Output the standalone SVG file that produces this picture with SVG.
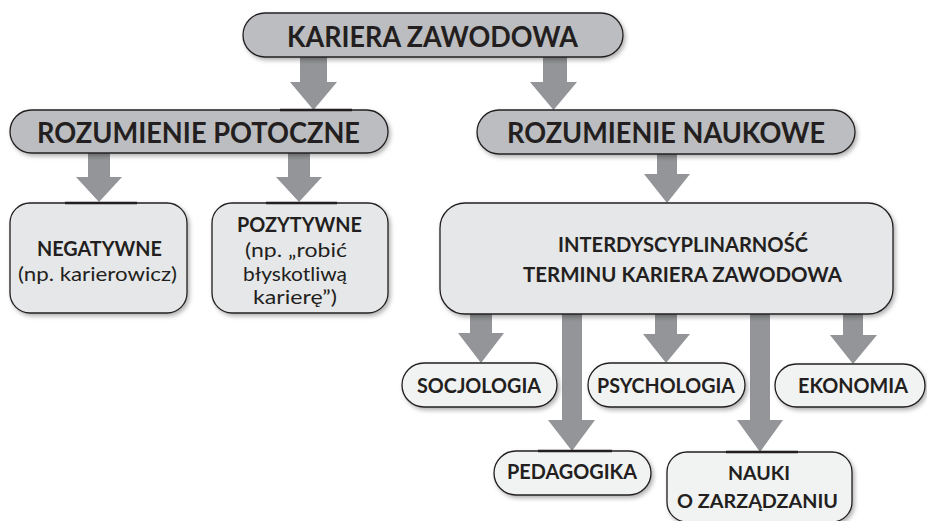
<svg xmlns="http://www.w3.org/2000/svg" width="927" height="521" viewBox="0 0 927 521">
  <defs>
    <filter id="shadow" x="-10%" y="-20%" width="125%" height="150%">
      <feDropShadow dx="2" dy="2.5" stdDeviation="2" flood-color="#000" flood-opacity="0.3"/>
    </filter>
    <style>
      .box { stroke: #231f20; stroke-width: 1.3; filter: url(#shadow); }
      .dark { fill: #bcbdc0; }
      .mid { fill: #e6e7e8; }
      .light { fill: #f1f2f2; }
      .edge { stroke: #231f20; stroke-width: 2.6; }
      .arrow { fill: #939598; }
      text { font-family: "Lato", "Liberation Sans", sans-serif; fill: #231f20; text-anchor: middle; }
      .t1 { font-size: 28px; font-weight: 700; }
      .t2 { font-size: 20px; font-weight: 700; }
      .t3 { font-size: 19px; font-weight: 400; }
      .t4 { font-size: 20px; font-weight: 700; }
      .t5 { font-size: 19px; font-weight: 700; }
    </style>
  </defs>
  <rect width="927" height="521" fill="#ffffff"/>

  <!-- connectors: block arrows -->
  <g id="connectors">
    <polygon class="arrow" points="300,55 327,55 327,82 337,82 313.5,110 290,82 300,82"/>
    <polygon class="arrow" points="543,55 567,55 567,82 577,82 553.5,110 530,82 543,82"/>
    <polygon class="arrow" points="88,151 110,151 110,177 122,177 99,202 76,177 88,177"/>
    <polygon class="arrow" points="288,151 310,151 310,177 322,177 299,202 276,177 288,177"/>
    <polygon class="arrow" points="657,152 677,152 677,174 690,174 667,203 644,174 657,174"/>
    <polygon class="arrow" points="470,312 492,312 492,333 504,333 481,363 458,333 470,333"/>
    <polygon class="arrow" points="655,312 677,312 677,334 690,334 666,363 643,334 655,334"/>
    <polygon class="arrow" points="843,312 863,312 863,335 877,335 853,364 830,335 843,335"/>
    <polygon class="arrow" points="562,312 582,312 582,420 595,420 572,451 548,420 562,420"/>
    <polygon class="arrow" points="750,312 770,312 770,420 783,420 760,452 737,420 750,420"/>
  </g>

  <g id="kariera">
    <rect class="box dark" x="243" y="13" width="380" height="44" rx="22"/>
    <text class="t1" x="432.5" y="47" textLength="291" lengthAdjust="spacingAndGlyphs">KARIERA ZAWODOWA</text>
  </g>

  <g id="potoczne">
    <rect class="box dark" x="10" y="110" width="378" height="43" rx="21.5"/>
    <line class="edge" x1="280" y1="110" x2="352" y2="110"/>
    <text class="t1" x="198.5" y="143" textLength="323" lengthAdjust="spacingAndGlyphs">ROZUMIENIE POTOCZNE</text>
  </g>

  <g id="naukowe">
    <rect class="box dark" x="477" y="110" width="378" height="44" rx="22"/>
    <text class="t1" x="666" y="143" textLength="318" lengthAdjust="spacingAndGlyphs">ROZUMIENIE NAUKOWE</text>
  </g>

  <g id="negatywne">
    <rect class="box mid" x="10" y="203" width="177" height="110" rx="20"/>
    <line class="edge" x1="65" y1="203" x2="137" y2="203"/>
    <text class="t2" x="99.5" y="256" textLength="125" lengthAdjust="spacingAndGlyphs">NEGATYWNE</text>
    <text class="t3" x="97.5" y="281" textLength="159" lengthAdjust="spacingAndGlyphs">(np. karierowicz)</text>
  </g>

  <g id="pozytywne">
    <rect class="box mid" x="212" y="203" width="176" height="110" rx="20"/>
    <line class="edge" x1="266" y1="203" x2="337" y2="203"/>
    <text class="t2" x="299.5" y="232" textLength="125" lengthAdjust="spacingAndGlyphs">POZYTYWNE</text>
    <text class="t3" x="296" y="257" textLength="102" lengthAdjust="spacingAndGlyphs">(np. „robić</text>
    <text class="t3" x="295" y="281" textLength="104" lengthAdjust="spacingAndGlyphs">błyskotliwą</text>
    <text class="t3" x="295" y="304" textLength="84" lengthAdjust="spacingAndGlyphs">karierę”)</text>
  </g>

  <g id="interdyscyplinarnosc">
    <rect class="box mid" x="440" y="203" width="453" height="111" rx="25"/>
    <text class="t4" x="683" y="252" textLength="250" lengthAdjust="spacingAndGlyphs">INTERDYSCYPLINARNOŚĆ</text>
    <text class="t4" x="682.5" y="282" textLength="319" lengthAdjust="spacingAndGlyphs">TERMINU KARIERA ZAWODOWA</text>
  </g>

  <g id="socjologia">
    <rect class="box light" x="402" y="363" width="155" height="44" rx="22"/>
    <text class="t4" x="479" y="393" textLength="124" lengthAdjust="spacingAndGlyphs">SOCJOLOGIA</text>
  </g>

  <g id="psychologia">
    <rect class="box light" x="588" y="363" width="157" height="44" rx="22"/>
    <text class="t4" x="666" y="393" textLength="138" lengthAdjust="spacingAndGlyphs">PSYCHOLOGIA</text>
  </g>

  <g id="ekonomia">
    <rect class="box light" x="775" y="364" width="150" height="43" rx="21.5"/>
    <text class="t4" x="853" y="393" textLength="110" lengthAdjust="spacingAndGlyphs">EKONOMIA</text>
  </g>

  <g id="pedagogika">
    <rect class="box light" x="494" y="451" width="157" height="44" rx="22"/>
    <line class="edge" x1="538" y1="451" x2="612" y2="451"/>
    <text class="t4" x="572" y="479" textLength="130" lengthAdjust="spacingAndGlyphs">PEDAGOGIKA</text>
  </g>

  <g id="nauki">
    <rect class="box light" x="667" y="452" width="185" height="70" rx="20"/>
    <line class="edge" x1="726" y1="452" x2="798" y2="452"/>
    <text class="t5" x="759" y="480" textLength="62" lengthAdjust="spacingAndGlyphs">NAUKI</text>
    <text class="t5" x="757.5" y="508" textLength="161" lengthAdjust="spacingAndGlyphs">O ZARZĄDZANIU</text>
  </g>
</svg>
